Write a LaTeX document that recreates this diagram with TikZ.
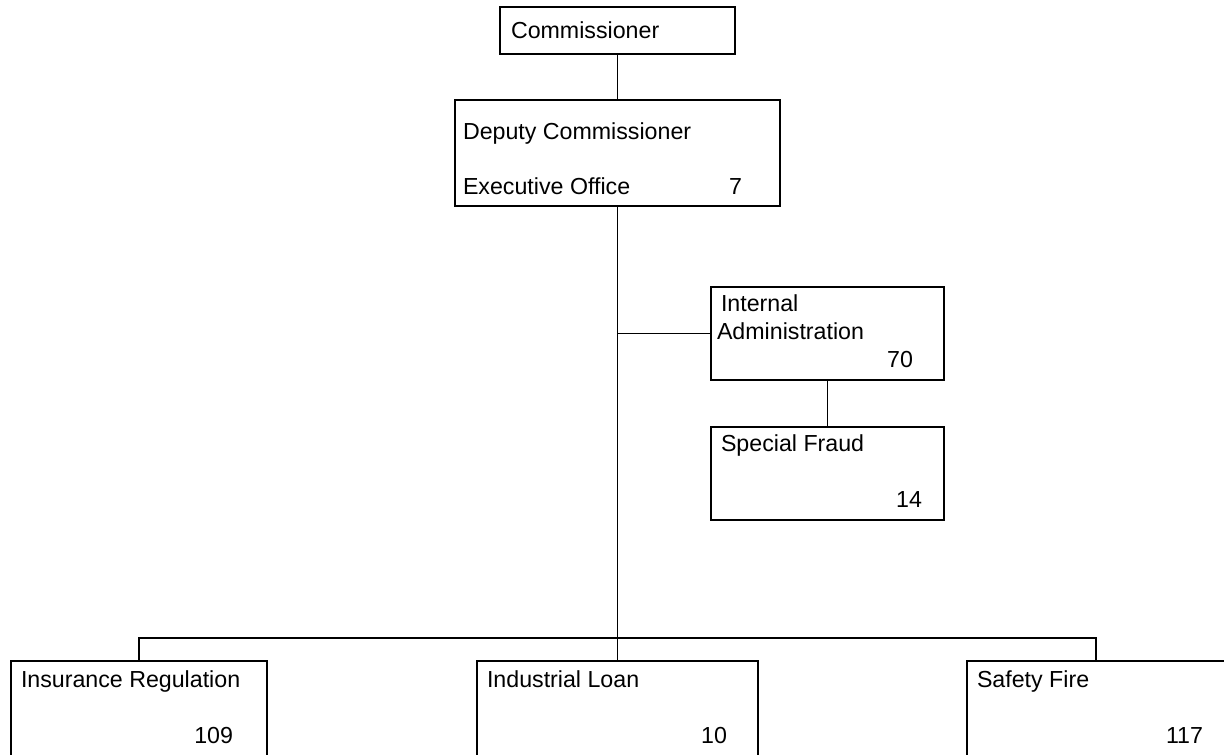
\documentclass[tikz,border=0pt]{standalone}
\usepackage{fontspec}
\setmainfont{Liberation Sans}
\begin{document}
\begin{tikzpicture}[x=0.5pt,y=-0.5pt,
  box/.style={draw, line width=0.75pt, rectangle, inner sep=0pt, outer sep=0pt, anchor=north west},
  lbl/.style={inner sep=0pt, outer sep=0pt, font=\fontsize{11.6pt}{13pt}\selectfont},
  conn/.style={line width=0.8pt}]
\useasboundingbox (0,0) rectangle (1224,754);
\clip (0,0) rectangle (1224,754);
% boxes
\node[box, minimum width=117.5pt, minimum height=23.5pt] (comm) at (500,7) {};
\node[box, minimum width=162.5pt, minimum height=53pt] (dep) at (455,100) {};
\node[box, minimum width=116.5pt, minimum height=46.5pt] (ia) at (711,287) {};
\node[box, minimum width=116.5pt, minimum height=46.5pt] (sf) at (711,427) {};
\node[box, minimum width=128pt, minimum height=60pt] (ins) at (11,661) {};
\node[box, minimum width=140.5pt, minimum height=60pt] (ind) at (477,661) {};
\node[box, minimum width=129pt, minimum height=60pt] (saf) at (967,661) {};
% labels
\node[lbl, anchor=base west] (tcomm) at (511,39) {Commissioner};
\node[lbl, anchor=base west] (tdep) at (463,140) {Deputy Commissioner};
\node[lbl, anchor=base west] (texe) at (463,195) {Executive Office};
\node[lbl, anchor=base east] (n7) at (742,195) {7};
\node[lbl, anchor=base west] (tint) at (721,311) {Internal};
\node[lbl, anchor=base west] (tadm) at (717,339) {Administration};
\node[lbl, anchor=base east] (n70) at (913,367) {70};
\node[lbl, anchor=base west] (tsf) at (721,451) {Special Fraud};
\node[lbl, anchor=base east] (n14) at (922,507) {14};
\node[lbl, anchor=base west] (tins) at (21,687) {Insurance Regulation};
\node[lbl, anchor=base east] (n109) at (233,743) {109};
\node[lbl, anchor=base west] (tind) at (487,687) {Industrial Loan};
\node[lbl, anchor=base east] (n10) at (727,743) {10};
\node[lbl, anchor=base west] (tsaf) at (977,687) {Safety Fire};
\node[lbl, anchor=base east] (n117) at (1203,743) {117};
% connectors
\coordinate (bus) at (617.5,638);
\draw[conn] (comm.south) -- (dep.north);
\draw[conn] (dep.south) -- (ind.north);
\draw[conn] (ia.west) -- (ia.west -| dep.south);
\draw[conn] (ia.south) -- (sf.north);
\draw[conn] (ins.north) |- (bus) -| (saf.north);
\end{tikzpicture}
\end{document}
